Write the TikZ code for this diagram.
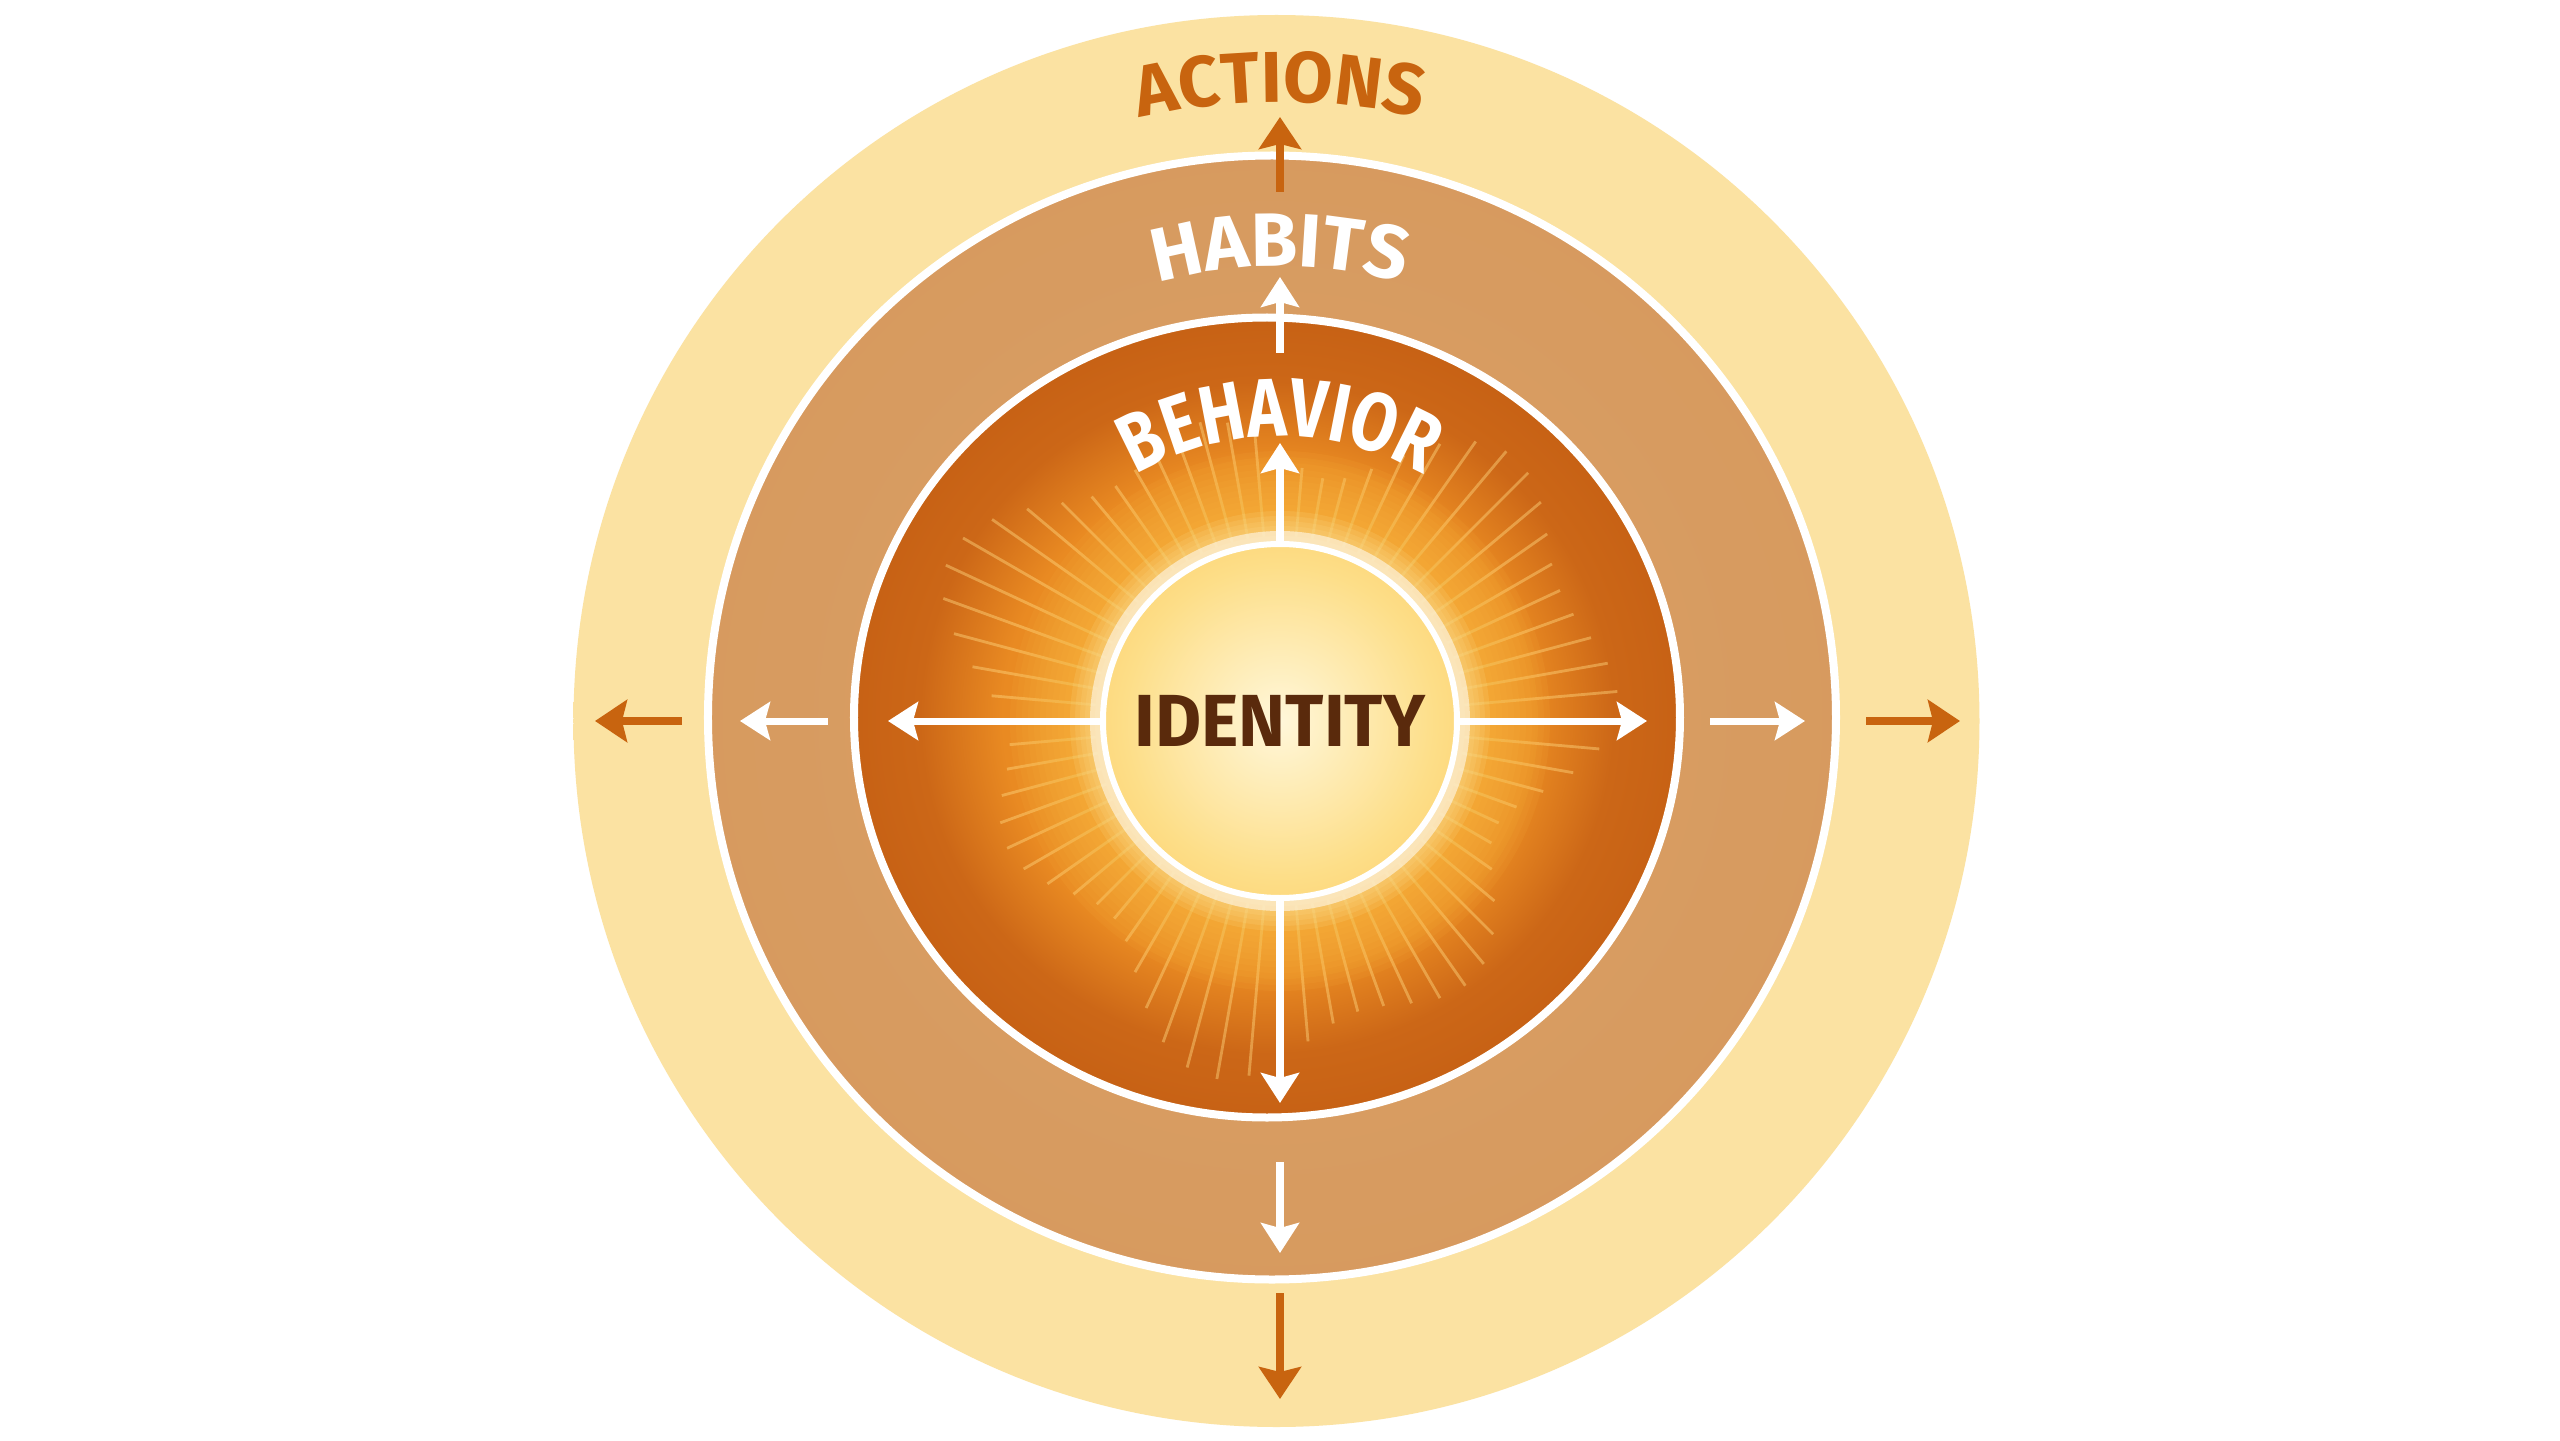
\documentclass[tikz,border=0pt]{standalone}
\usepackage{fontspec}
\usepackage{tikz}
\usetikzlibrary{positioning, arrows.meta, shapes.geometric, decorations.text}

\newfontfamily\ringfont{Fira Sans}
\newfontfamily\narrowfont{Fira Sans}[FakeStretch=0.8]
\newcommand{\actfont}{\ringfont\bfseries\fontsize{20.5}{24}\selectfont}
\newcommand{\habfont}{\ringfont\bfseries\fontsize{21.5}{25}\selectfont}
\newcommand{\behfont}{\narrowfont\bfseries\fontsize{23.5}{27}\selectfont}

\definecolor{actfill}{HTML}{FBE2A2}
\definecolor{actedge}{HTML}{FEF3DA}
\definecolor{habfill}{HTML}{D6985B}
\definecolor{behfill}{HTML}{C25C13}
\definecolor{behmid}{HTML}{CC6717}
\definecolor{behglow}{HTML}{E98A22}
\definecolor{glowcol}{HTML}{FFC44A}
\definecolor{halocol}{HTML}{FFE9A8}
\definecolor{idcore}{HTML}{FFF7DA}
\definecolor{idmid}{HTML}{FDDE88}
\definecolor{idrim}{HTML}{FBBE4A}
\definecolor{actorange}{HTML}{C8640F}
\definecolor{idtext}{HTML}{5A2A0C}
\definecolor{raycol}{HTML}{FFD67E}

\pgfdeclareradialshading{actshade}{\pgfpointorigin}{color(0bp)=(actfill); color(28bp)=(actfill); color(33bp)=(actfill!55!actedge); color(35.4bp)=(actedge); color(50bp)=(actedge)}
\pgfdeclareradialshading{habshade}{\pgfpointorigin}{color(0bp)=(habfill!92!white); color(35bp)=(habfill); color(50bp)=(habfill)}
\pgfdeclareradialshading{behshade}{\pgfpointorigin}{color(0bp)=(behglow); color(16bp)=(behglow); color(21bp)=(behmid); color(28bp)=(behfill!90!behmid); color(35bp)=(behfill); color(50bp)=(behfill)}
\pgfdeclareradialshading{idshade}{\pgfpointorigin}{color(0bp)=(idcore); color(22bp)=(idmid); color(46bp)=(idrim); color(50bp)=(idrim)}

\begin{document}
\begin{tikzpicture}[
  ring/.style={ellipse, inner sep=0pt, outer sep=0pt},
  whitearr/.style={-{Stealth[length=0.30cm, width=0.38cm, inset=0.05cm]},
              line width=0.07cm, white},
  orangearr/.style={-{Stealth[length=0.32cm, width=0.42cm, inset=0.05cm]},
              line width=0.075cm, actorange},
  ray/.style={raycol, line width=0.8pt, opacity=0.45}
]
  \useasboundingbox[fill=white] (-12.78,-7.21) rectangle (12.82,7.19);

  % rings
  \node[ring, shading=actshade, minimum width=14.06cm, minimum height=14.12cm]
    (actions) at (-0.015,-0.02) {};
  \node[ring, shading=habshade, draw=white, line width=0.08cm,
    minimum width=11.28cm, minimum height=11.24cm] (habits) at (-0.06,0.015) {};
  \node[ring, shading=behshade, draw=white, line width=0.08cm,
    minimum width=8.26cm, minimum height=8.0cm] (behavior) at (-0.11,0.015) {};

  \coordinate (core) at (0.02,-0.02);

  % rays and glow round the core
  \foreach \a in {0,5,...,355}
    \draw[ray] (core) ++(\a:1.85) -- ++(\a:{1.2+0.35*sin(3*\a)+0.3*cos(7*\a)});
  \foreach \r in {1.80,1.86,...,2.70}
    \fill[glowcol, opacity=0.08] (core) circle[radius=\r cm];
  \foreach \r in {1.80,1.85,...,2.15}
    \fill[halocol, opacity=0.12] (core) circle[radius=\r cm];
  \draw[white, opacity=0.5, line width=0.2cm] (core) circle[radius=1.80cm];

  \node[circle, shading=idshade, draw=white, line width=0.06cm, minimum size=3.54cm,
    inner sep=0pt, text=idtext, font=\ringfont\bfseries\fontsize{21}{25}\selectfont]
    (identity) at (core) {\scalebox{0.96}[1]{IDENTITY}};

  % arrow ends
  \coordinate (behN) at (0.02,2.76);
  \coordinate (habNa) at (0.02,3.66);  \coordinate (habNb) at (0.02,4.42);
  \coordinate (actNa) at (0.02,5.27);  \coordinate (actNb) at (0.02,6.02);
  \coordinate (behS) at (0.02,-3.84);
  \coordinate (habSa) at (0.02,-4.43); \coordinate (habSb) at (0.02,-5.34);
  \coordinate (actSa) at (0.02,-5.74); \coordinate (actSb) at (0.02,-6.80);
  \coordinate (behW) at (-3.90,-0.02);
  \coordinate (habWa) at (-4.50,-0.02); \coordinate (habWb) at (-5.38,-0.02);
  \coordinate (actWa) at (-5.96,-0.02); \coordinate (actWb) at (-6.83,-0.02);
  \coordinate (behE) at (3.69,-0.02);
  \coordinate (habEa) at (4.32,-0.02);  \coordinate (habEb) at (5.27,-0.02);
  \coordinate (actEa) at (5.88,-0.02);  \coordinate (actEb) at (6.82,-0.02);

  \draw[whitearr] (identity.north) -- (behN);
  \draw[whitearr] (identity.south) -- (behS);
  \draw[whitearr] (identity.west) -- (behW);
  \draw[whitearr] (identity.east) -- (behE);
  \draw[whitearr] (habNa) -- (habNb);
  \draw[whitearr] (habSa) -- (habSb);
  \draw[whitearr] (habWa) -- (habWb);
  \draw[whitearr] (habEa) -- (habEb);
  \draw[orangearr] (actNa) -- (actNb);
  \draw[orangearr] (actSa) -- (actSb);
  \draw[orangearr] (actWa) -- (actWb);
  \draw[orangearr] (actEa) -- (actEb);

  % curved labels
  \path[decorate, decoration={text along path, text align=center,
      text color=actorange, text={|\actfont|ACTIONS}}]
    (core) ++(130:6.19) arc[start angle=130, end angle=50, radius=6.19cm];
  \path[decorate, decoration={text along path, text align=center,
      text color=white, text={|\habfont|HABITS}}]
    (core) ++(140:4.55) arc[start angle=140, end angle=40, radius=4.55cm];
  \path[decorate, decoration={text along path, text align=center,
      text color=white, text={|\behfont|BEHAVIOR}}]
    (core) ++(155:2.85) arc[start angle=155, end angle=25, radius=2.85cm];
\end{tikzpicture}
\end{document}
